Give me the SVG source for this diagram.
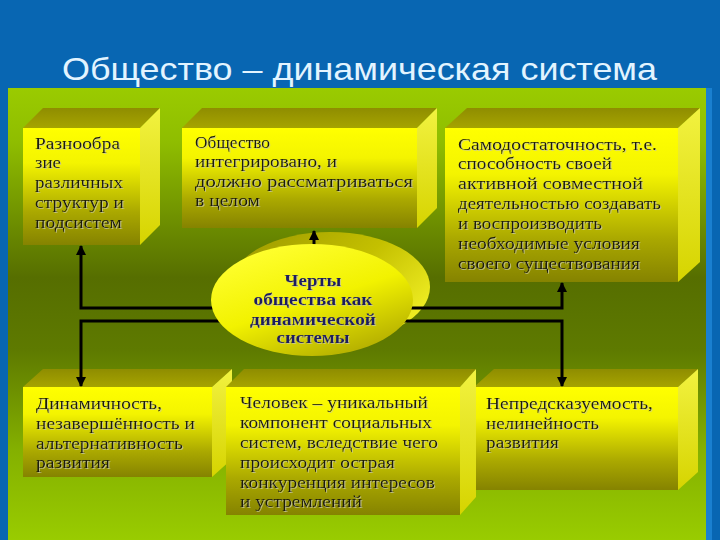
<svg xmlns="http://www.w3.org/2000/svg" width="720" height="540" viewBox="0 0 720 540">
<defs>
<linearGradient id="gPanel" x1="0" y1="88" x2="0" y2="540" gradientUnits="userSpaceOnUse">
<stop offset="0" stop-color="#9acb00"/>
<stop offset="0.12" stop-color="#8fbd00"/>
<stop offset="0.42" stop-color="#566e00"/>
<stop offset="0.58" stop-color="#5e7a00"/>
<stop offset="0.8" stop-color="#84b000"/>
<stop offset="1" stop-color="#99cc00"/>
</linearGradient>
<linearGradient id="gFront" x1="0" y1="0" x2="0" y2="1">
<stop offset="0" stop-color="#ffff00"/>
<stop offset="0.3" stop-color="#f4f400"/>
<stop offset="0.72" stop-color="#aaa800"/>
<stop offset="1" stop-color="#858300"/>
</linearGradient>
<linearGradient id="gTop" x1="0" y1="0" x2="0" y2="1">
<stop offset="0" stop-color="#8f8d00"/>
<stop offset="1" stop-color="#a6a400"/>
</linearGradient>
<linearGradient id="gSide" x1="0" y1="0" x2="0" y2="1">
<stop offset="0" stop-color="#f2f240"/>
<stop offset="1" stop-color="#d6d400"/>
</linearGradient>
<linearGradient id="gEllFront" x1="0.2" y1="0.05" x2="0.75" y2="1">
<stop offset="0" stop-color="#ffff30"/>
<stop offset="0.5" stop-color="#f2f200"/>
<stop offset="1" stop-color="#b0aa00"/>
</linearGradient>
<linearGradient id="gEllBack" x1="0" y1="0" x2="1" y2="0.6">
<stop offset="0" stop-color="#9a9600"/>
<stop offset="0.6" stop-color="#c4c000"/>
<stop offset="1" stop-color="#ecea20"/>
</linearGradient>
<marker id="arr" viewBox="0 0 10 10" refX="9" refY="5" markerWidth="10" markerHeight="10" markerUnits="userSpaceOnUse" orient="auto">
<path d="M0,0 L10,5 L0,10 z" fill="#000"/>
</marker>
<filter id="sh" x="-5%" y="-20%" width="110%" height="140%">
<feDropShadow dx="1" dy="1" stdDeviation="0.4" flood-color="#c8c8a0" flood-opacity="0.8"/>
</filter>
<style>
.front{fill:url(#gFront)}
.top{fill:url(#gTop)}
.side{fill:url(#gSide)}
.t{font-family:"Liberation Serif","DejaVu Serif",serif;font-size:17px;fill:#1a1a10}
.c{font-family:"Liberation Serif","DejaVu Serif",serif;font-size:17px;font-weight:bold;fill:#1c1c60;text-anchor:middle}
.ln{fill:none;stroke:#000;stroke-width:3}
</style>
</defs>
<rect x="0" y="0" width="720" height="540" fill="#0866b2"/>
<rect x="706" y="88" width="6" height="452" fill="#1a80d0"/>
<rect x="8" y="88" width="698" height="452" fill="url(#gPanel)"/>
<text x="62" y="80" textLength="595" lengthAdjust="spacingAndGlyphs" font-family="Liberation Sans, Arial, sans-serif" font-size="32" fill="#e2f4ff">Общество – динамическая система</text>

<g id="box1">
<polygon class="top" points="23,128 43,108 160,108 140,128"/>
<polygon class="side" points="140,128 160,108 160,225 140,245"/>
<rect class="front" x="23" y="128" width="117" height="117"/>
<g filter="url(#sh)">
<text class="t" x="35" y="149" textLength="85" lengthAdjust="spacingAndGlyphs">Разнообра</text>
<text class="t" x="35" y="168" textLength="26" lengthAdjust="spacingAndGlyphs">зие</text>
<text class="t" x="35" y="188" textLength="88" lengthAdjust="spacingAndGlyphs">различных</text>
<text class="t" x="35" y="208" textLength="89" lengthAdjust="spacingAndGlyphs">структур и</text>
<text class="t" x="35" y="228" textLength="87" lengthAdjust="spacingAndGlyphs">подсистем</text>
</g>
</g>

<g id="box2">
<polygon class="top" points="182,128 202,108 437,108 417,128"/>
<polygon class="side" points="417,128 437,108 437,208 417,228"/>
<rect class="front" x="182" y="128" width="235" height="100"/>
<g filter="url(#sh)">
<text class="t" x="195" y="148" textLength="75" lengthAdjust="spacingAndGlyphs">Общество</text>
<text class="t" x="195" y="167" textLength="142" lengthAdjust="spacingAndGlyphs">интегрировано, и</text>
<text class="t" x="195" y="187" textLength="218" lengthAdjust="spacingAndGlyphs">должно рассматриваться</text>
<text class="t" x="195" y="206" textLength="65" lengthAdjust="spacingAndGlyphs">в целом</text>
</g>
</g>

<g id="box3">
<polygon class="top" points="445,128 467,108 700,108 678,128"/>
<polygon class="side" points="678,128 700,108 700,262 678,282"/>
<rect class="front" x="445" y="128" width="233" height="154"/>
<g filter="url(#sh)">
<text class="t" x="458" y="150" textLength="199" lengthAdjust="spacingAndGlyphs">Самодостаточность, т.е.</text>
<text class="t" x="458" y="169" textLength="154" lengthAdjust="spacingAndGlyphs">способность своей</text>
<text class="t" x="458" y="189" textLength="185" lengthAdjust="spacingAndGlyphs">активной совместной</text>
<text class="t" x="458" y="209" textLength="203" lengthAdjust="spacingAndGlyphs">деятельностью создавать</text>
<text class="t" x="458" y="229" textLength="144" lengthAdjust="spacingAndGlyphs">и воспроизводить</text>
<text class="t" x="458" y="249" textLength="182" lengthAdjust="spacingAndGlyphs">необходимые условия</text>
<text class="t" x="458" y="269" textLength="182" lengthAdjust="spacingAndGlyphs">своего существования</text>
</g>
</g>

<g id="box4">
<polygon class="top" points="23,387 43,369 232,369 212,387"/>
<polygon class="side" points="212,387 232,369 232,459 212,477"/>
<rect class="front" x="23" y="387" width="189" height="90"/>
<g filter="url(#sh)">
<text class="t" x="36" y="409" textLength="126" lengthAdjust="spacingAndGlyphs">Динамичность,</text>
<text class="t" x="36" y="429" textLength="159" lengthAdjust="spacingAndGlyphs">незавершённость и</text>
<text class="t" x="36" y="449" textLength="147" lengthAdjust="spacingAndGlyphs">альтернативность</text>
<text class="t" x="36" y="468" textLength="74" lengthAdjust="spacingAndGlyphs">развития</text>
</g>
</g>

<g id="box6">
<polygon class="top" points="474,387 494,369 698,369 678,387"/>
<polygon class="side" points="678,387 698,369 698,472 678,490"/>
<rect class="front" x="474" y="387" width="204" height="103"/>
<g filter="url(#sh)">
<text class="t" x="486" y="409" textLength="167" lengthAdjust="spacingAndGlyphs">Непредсказуемость,</text>
<text class="t" x="486" y="429" textLength="113" lengthAdjust="spacingAndGlyphs">нелинейность</text>
<text class="t" x="486" y="448" textLength="73" lengthAdjust="spacingAndGlyphs">развития</text>
</g>
</g>

<g id="box5">
<polygon class="top" points="226,387 244,369 476,369 460,387"/>
<polygon class="side" points="460,387 476,369 476,497 460,515"/>
<rect class="front" x="226" y="387" width="234" height="128"/>
<g filter="url(#sh)">
<text class="t" x="240" y="408" textLength="188" lengthAdjust="spacingAndGlyphs">Человек – уникальный</text>
<text class="t" x="240" y="428" textLength="192" lengthAdjust="spacingAndGlyphs">компонент социальных</text>
<text class="t" x="240" y="448" textLength="198" lengthAdjust="spacingAndGlyphs">систем, вследствие чего</text>
<text class="t" x="240" y="468" textLength="155" lengthAdjust="spacingAndGlyphs">происходит острая</text>
<text class="t" x="240" y="488" textLength="195" lengthAdjust="spacingAndGlyphs">конкуренция интересов</text>
<text class="t" x="240" y="507" textLength="122" lengthAdjust="spacingAndGlyphs">и устремлений</text>
</g>
</g>

<g id="center-back">
<ellipse cx="330" cy="287" rx="100" ry="55" fill="url(#gEllBack)"/>
</g>

<g id="connectors">
<path class="ln" d="M250,308 H81 V246" marker-end="url(#arr)"/>
<path class="ln" d="M250,321 H81 V386" marker-end="url(#arr)"/>
<path class="ln" d="M380,308 H562 V283" marker-end="url(#arr)"/>
<path class="ln" d="M380,321 H562 V386" marker-end="url(#arr)"/>
<path class="ln" d="M314,260 V231" marker-end="url(#arr)"/>
</g>

<g id="center">
<ellipse cx="312" cy="300" rx="101" ry="56" fill="url(#gEllFront)"/>
<g filter="url(#sh)">
<text class="c" x="313" y="286" textLength="57" lengthAdjust="spacingAndGlyphs">Черты</text>
<text class="c" x="313" y="305" textLength="119" lengthAdjust="spacingAndGlyphs">общества как</text>
<text class="c" x="313" y="325" textLength="126" lengthAdjust="spacingAndGlyphs">динамической</text>
<text class="c" x="313" y="343" textLength="73" lengthAdjust="spacingAndGlyphs">системы</text>
</g>
</g>
</svg>
